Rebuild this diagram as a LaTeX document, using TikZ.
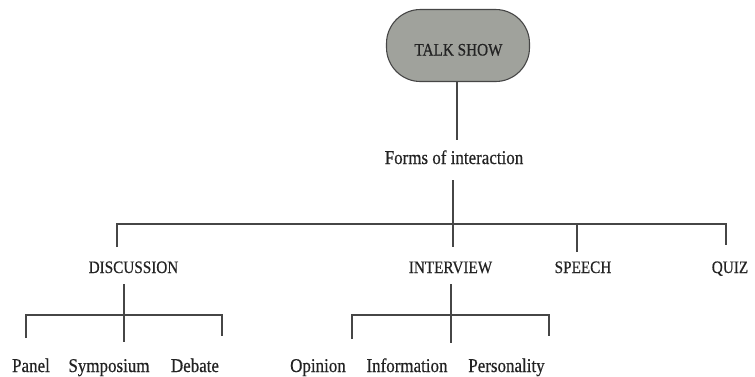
\documentclass[tikz,border=0pt]{standalone}
\usepackage{fontspec}
\setmainfont[FakeStretch=0.87,FakeBold=0.5]{Liberation Serif}
\definecolor{ink}{RGB}{35,35,35}
\definecolor{wire}{RGB}{70,70,70}
\definecolor{boxfill}{RGB}{160,162,156}
\begin{document}
\begin{tikzpicture}[x=1pt,y=-1pt,
  capslabel/.style={text=ink,font=\fontsize{17.5}{20}\selectfont,inner sep=0pt,anchor=base},
  lowlabel/.style={text=ink,font=\fontsize{19.5}{22}\selectfont,inner sep=0pt,anchor=base},
  wire/.style={draw=wire,line width=1.1pt},
  rootbox/.style={draw=wire,fill=boxfill,line width=1.1pt,rounded corners=34pt,
    minimum width=143pt,minimum height=72pt,inner sep=0pt}]
\fill[white] (0,0) rectangle (755,376);
\useasboundingbox (0,0) rectangle (755,376);
% nodes
\node[rootbox] (talk) at (458,45.5) {};
\node[capslabel] (talktext) at (458.5,55.5) {TALK SHOW};
\node[lowlabel] (forms) at (454,164) {Forms of interaction};
\node[capslabel] (disc) at (133.5,273) {DISCUSSION};
\node[capslabel] (intv) at (450.5,273) {INTERVIEW};
\node[capslabel] (speech) at (583,273) {SPEECH};
\node[capslabel] (quiz) at (730,273) {QUIZ};
\node[lowlabel] (panel) at (31,372) {Panel};
\node[lowlabel] (symp) at (109,372) {Symposium};
\node[lowlabel] (debate) at (195,372) {Debate};
\node[lowlabel] (opin) at (318,372) {Opinion};
\node[lowlabel] (info) at (407,372) {Information};
\node[lowlabel] (pers) at (506.5,372) {Personality};
% junction coordinates
\coordinate (formsTop) at (457,140);
\coordinate (formsBot) at (453,180);
\coordinate (barL) at (117,224);
\coordinate (barR) at (726,224);
\coordinate (discTop) at (117,247);
\coordinate (intvTop) at (453,247);
\coordinate (speechTop) at (577,252);
\coordinate (quizTop) at (726,245);
\coordinate (discBot) at (124,284);
\coordinate (discBar) at (124,315);
\coordinate (dL) at (26,315);
\coordinate (dR) at (222,315);
\coordinate (panelTop) at (26,338);
\coordinate (sympTop) at (124,342);
\coordinate (debateTop) at (222,336);
\coordinate (intvBot) at (451,284);
\coordinate (iL) at (352,315);
\coordinate (iR) at (549,315);
\coordinate (opinTop) at (352,339);
\coordinate (infoTop) at (451,343);
\coordinate (persTop) at (549,336);
% connectors
\draw[wire] (talk.south -| formsTop) -- (formsTop);
\draw[wire] (formsBot) -- (intvTop);
\draw[wire] (discTop) -- (barL) -- (barR) -- (quizTop);
\draw[wire] (speechTop) -- (speechTop |- barR);
\draw[wire] (discBot) -- (sympTop);
\draw[wire] (panelTop) -- (dL) -- (dR) -- (debateTop);
\draw[wire] (intvBot) -- (infoTop);
\draw[wire] (opinTop) -- (iL) -- (iR) -- (persTop);
\end{tikzpicture}
\end{document}
